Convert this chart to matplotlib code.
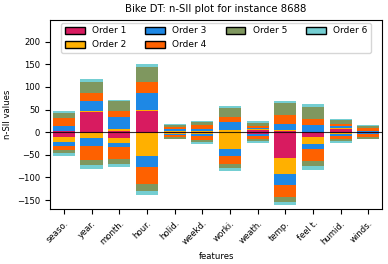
# -*- coding: utf-8 -*-
"""n-SII stacked bar plot, Bike DT instance 8688."""
import matplotlib
matplotlib.use("Agg")
import matplotlib.pyplot as plt
from matplotlib.patches import Patch
import numpy as np

FEATURES = ["seaso.", "year.", "month.", "hour.", "holid.", "weekd.",
            "worki.", "weath.", "temp.", "feel t.", "humid.", "winds."]

# positive contributions per order
order1_pos = [2, 44, 2, 46, 1, 1, 1, 5, 2, 0.5, 6, 0.5]
order2_pos = [0.5, 4, 6, 3, 1.5, 1, 4, 1, 2, 0.5, 3, 0.5]
order3_pos = [12, 21, 26, 37, 4, 4, 18, 3, 15, 15, 5, 1]
order4_pos = [17, 18, 13, 25, 6, 9, 10, 4, 18, 13, 5, 7]
order5_pos = [11, 24, 21, 33, 3, 7, 21, 8, 27, 27, 7, 4]
order6_pos = [4, 7, 4, 6, 2, 3, 5, 3, 6, 6, 3, 2]

# negative contributions per order
order1_neg = [-11, -2, -12, -1, -1, -1, -0.5, -3, -57, -10, -2, -1]
order2_neg = [-11, -11, -12, -52, -2, -2, -36, -2, -35, -17, -2, -1]
order3_neg = [-8, -18, -8, -23, -4, -6, -15, -4, -24, -10, -4, -1]
order4_neg = [-9, -30, -27, -38, -4, -8, -18, -6, -27, -27, -8, -8]
order5_neg = [-8, -12, -11, -16, -3, -5, -9, -5, -12, -10, -4, -3]
order6_neg = [-6, -9, -7, -9, -2, -4, -7, -3, -7, -9, -4, -2]

ORDER_LABELS = ["Order 1", "Order 2", "Order 3", "Order 4", "Order 5", "Order 6"]
COLORS = ["#D81B60", "#FFB000", "#1E88E5", "#FE6100", "#7F975F", "#74CED2"]

plt.rcParams["font.size"] = 6.1

pos = [order1_pos, order2_pos, order3_pos, order4_pos, order5_pos, order6_pos]
neg = [order1_neg, order2_neg, order3_neg, order4_neg, order5_neg, order6_neg]

fig = plt.figure(figsize=(3.88, 2.64), dpi=100)
ax = fig.add_axes([0.129, 0.208, 0.856, 0.716])

x = np.arange(len(FEATURES))
bottom_pos = np.zeros(len(FEATURES))
bottom_neg = np.zeros(len(FEATURES))
for k in range(len(pos)):
    p = np.array(pos[k], dtype=float)
    n = np.array(neg[k], dtype=float)
    ax.bar(x, p, bottom=bottom_pos, color=COLORS[k], width=0.8)
    ax.bar(x, n, bottom=bottom_neg, color=COLORS[k], width=0.8)
    bottom_pos += p
    bottom_neg += n

ax.axhline(0, color="black", linewidth=0.8, alpha=0.8)

handles = [Patch(facecolor=c, edgecolor="black", label=l)
           for c, l in zip(COLORS, ORDER_LABELS)]
ax.legend(handles=handles, loc="upper center", ncol=4, fontsize=6.5,
          handlelength=2.2, handleheight=0.75, columnspacing=2.1,
          borderaxespad=0.3, labelspacing=0.55)

ax.set_xticks(x)
ax.set_xticklabels(FEATURES, rotation=45, ha="right", rotation_mode="anchor")
ax.set_xlim(-0.5, len(FEATURES) - 0.5)
ax.set_ylim(-170, 248)
ax.set_yticks([-150, -100, -50, 0, 50, 100, 150, 200])
ax.set_xlabel("features")
ax.set_ylabel("n-SII values")
ax.set_title("Bike DT: n-SII plot for instance 8688")

fig.savefig("out.png", dpi=100)
